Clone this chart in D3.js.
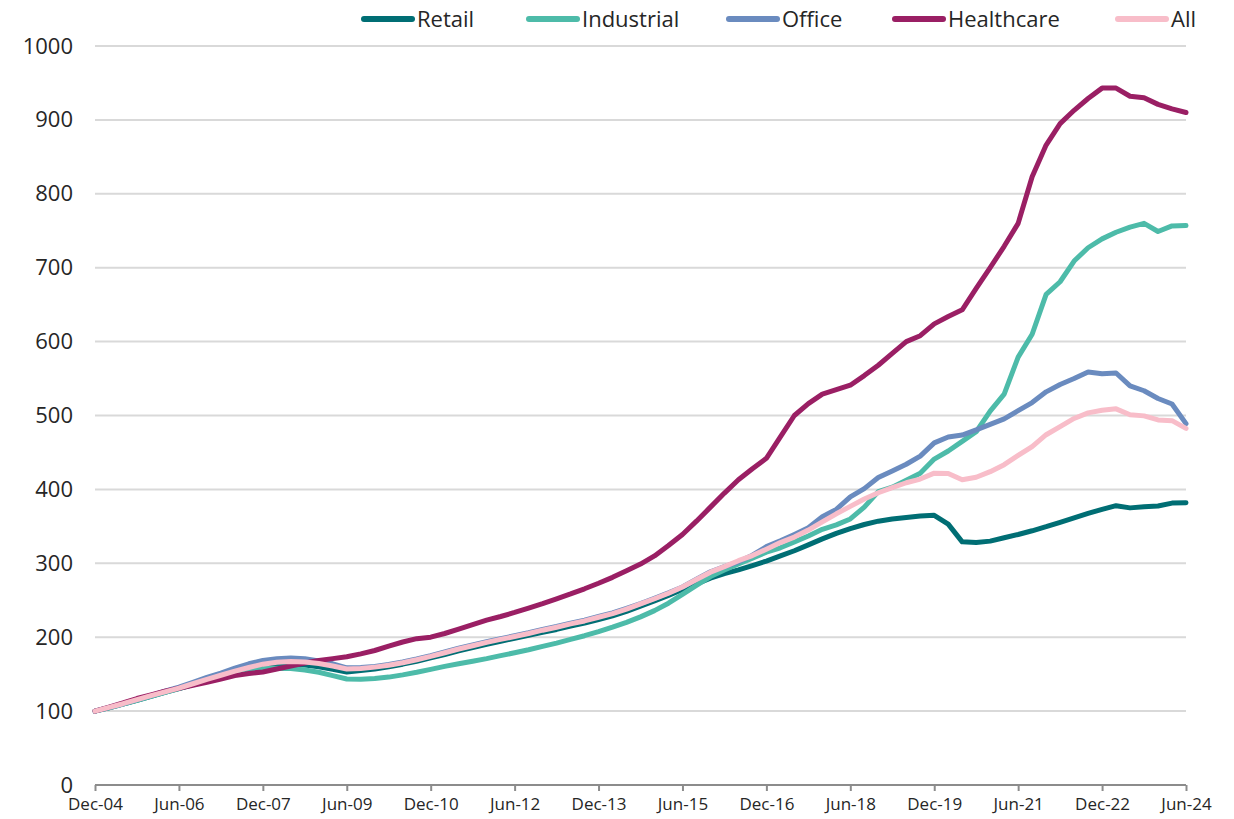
<!DOCTYPE html>
<html>
<head>
<meta charset="utf-8">
<script src="https://cdn.jsdelivr.net/npm/d3@7"></script>
<style>
  html, body { margin: 0; padding: 0; background: #ffffff; }
  svg { display: block; font-family: "Open Sans", "Noto Sans", sans-serif; }
</style>
</head>
<body>
<svg id="chart" width="1234" height="819"></svg>
<script>
// Quarterly index values, Dec-04 = 100 (79 quarters, Dec-04 .. Jun-24)
const seriesNames = ["Retail", "Industrial", "Office", "Healthcare", "All"];

const retail = [
  100, 104.5, 109.5, 114.5, 120, 125.5, 130.5, 136, 141.5, 147,
  152, 157, 161, 163, 163.5, 162.5, 160, 156.5, 153, 155,
  157, 160, 163.5, 167.5, 172, 176.5, 181.5, 186, 190.5, 194.5,
  198.5, 202.5, 206.5, 210.5, 215, 219, 224, 229, 235, 242,
  249, 256.5, 264.5, 272, 280, 286, 291, 297, 303, 310,
  317, 325, 333, 340.5, 347, 352.5, 357, 360, 362, 364,
  365, 353, 329, 328, 330, 334.5, 339, 344, 349.5, 355.5,
  361.5, 367.5, 373, 378, 375, 376.5, 377.5, 381.5, 382
];

const industrial = [
  100, 104.5, 109.5, 114.5, 120, 125.5, 130.5, 136, 141, 146,
  151, 155, 157.5, 158, 157.5, 155.5, 152.5, 148, 143.5, 143,
  144, 146, 149, 152.5, 156.5, 160.5, 164, 167.5, 171, 175,
  179, 183, 187.5, 192, 197, 202, 207.5, 213.5, 220, 227.5,
  236, 246, 258, 270, 282, 291, 299, 307, 315, 321,
  329, 337, 346, 352, 360, 376, 397, 403, 412.5, 422,
  441, 452, 465, 478, 506, 529, 579, 610, 664, 681,
  709, 727, 739, 748, 755, 760, 749, 756.5, 757
];

const office = [
  100, 105, 110, 115.5, 121, 127, 132.5, 139, 145.5, 151.5,
  158, 164, 168.5, 171, 172, 171, 168, 164, 158.5, 159,
  160.5, 163, 166.5, 170.5, 175, 180, 185, 189.5, 194, 198,
  202, 206, 210.5, 214.5, 219, 223, 228, 233, 239, 245.5,
  252.5, 260, 268, 278.5, 288.5, 295.5, 302, 311, 322.5, 330.5,
  339, 348, 363, 373, 390, 401, 416, 425, 434, 445,
  463, 471, 473.5, 480.5, 488, 495.5, 506.5, 517.5, 532, 542,
  550, 559, 556.5, 557.5, 540, 533.5, 523, 515.5, 489
];

const healthcare = [
  100, 105.5, 111, 117, 122, 127, 131, 135, 139, 143.5,
  148, 151, 153, 157, 161, 165, 168.5, 171, 173.5, 177.5,
  182, 188, 193.5, 198, 200, 205, 211, 217, 223, 228,
  233.5, 239.5, 245.5, 252, 258.5, 265.5, 273, 281, 290, 299,
  310, 324, 339, 357, 376, 395, 413, 428, 442, 471,
  500, 516, 529, 535, 541, 554, 568, 584, 600, 608,
  624, 634, 643, 672, 700, 729, 760, 823, 866, 895,
  913, 929, 943, 943, 932, 930, 921, 915, 910
];

const all = [
  100, 105, 110, 115.5, 121, 126, 131, 137, 143, 148.5,
  154, 159, 163.5, 166, 167, 166.5, 164.5, 161, 157, 157.5,
  159.5, 162, 165.5, 169.5, 174, 179, 184, 188.5, 193, 197,
  201, 205, 209.5, 213.5, 218, 222, 227, 232, 238, 245,
  252, 259.5, 268, 278, 288, 295.5, 303.5, 310.5, 319, 328,
  335.5, 345, 356, 367, 377, 387, 395.5, 402.5, 409, 414,
  422, 421.5, 413, 416.5, 424, 433.5, 446, 458, 474, 485,
  496, 503.5, 507, 509, 501, 499.5, 494, 493, 482.5
];

// Axis labels: every sixth quarter on x, every 100 on y
const xTickLabels = ["Dec-04", "Jun-06", "Dec-07", "Jun-09", "Dec-10", "Jun-12", "Dec-13",
                     "Jun-15", "Dec-16", "Jun-18", "Dec-19", "Jun-21", "Dec-22", "Jun-24"];
const yTickValues = [0, 100, 200, 300, 400, 500, 600, 700, 800, 900, 1000];

const colors = {
  Retail: "#006e74",
  Industrial: "#4dbba9",
  Office: "#6a8bbf",
  Healthcare: "#9a1f64",
  All: "#f8bdc9"
};

const seriesData = { Retail: retail, Industrial: industrial, Office: office, Healthcare: healthcare, All: all };

const svg = d3.select("#chart");
const plotLeft = 95, plotRight = 1186, plotTop = 46, plotBottom = 785;

const nQ = all.length - 1;
const x = d3.scaleLinear().domain([0, nQ]).range([plotLeft, plotRight]);
const y = d3.scaleLinear().domain([0, 1000]).range([plotBottom, plotTop]);

// horizontal gridlines
svg.append("g")
  .selectAll("line")
  .data(yTickValues.filter(v => v > 0))
  .join("line")
  .attr("x1", plotLeft).attr("x2", plotRight)
  .attr("y1", d => y(d)).attr("y2", d => y(d))
  .attr("stroke", "#d9d9d9")
  .attr("stroke-width", 2);

// y labels
const yAxis = d3.axisLeft(y).tickValues(yTickValues).tickFormat(d3.format("d"))
  .tickSize(0).tickPadding(0);
const gy = svg.append("g").attr("transform", `translate(${plotLeft - 22},0)`).call(yAxis);
gy.select(".domain").remove();
gy.selectAll("text")
  .attr("font-family", "'Open Sans', sans-serif")
  .attr("font-size", 22)
  .attr("fill", "#262626");

// x axis with ticks every six quarters
const xTickIdx = xTickLabels.map((_, i) => i * 6);
const xAxis = d3.axisBottom(x)
  .tickValues(xTickIdx)
  .tickFormat((d, i) => xTickLabels[i])
  .tickSize(6)
  .tickPadding(7);
const gx = svg.append("g").attr("transform", `translate(0,${plotBottom})`).call(xAxis);
gx.select(".domain").attr("stroke", "#8c8c8c").attr("stroke-width", 2)
  .attr("d", `M${plotLeft},0H${plotRight}`);
gx.selectAll(".tick line").attr("stroke", "#8c8c8c").attr("stroke-width", 2);
gx.selectAll("text")
  .attr("font-family", "'Open Sans', sans-serif")
  .attr("font-size", 17)
  .attr("fill", "#262626");

// series lines
const line = d3.line()
  .x((d, i) => x(i))
  .y(d => y(d));

svg.append("g")
  .selectAll("path")
  .data(seriesNames)
  .join("path")
  .attr("d", name => line(seriesData[name]))
  .attr("fill", "none")
  .attr("stroke", name => colors[name])
  .attr("stroke-width", 5)
  .attr("stroke-linejoin", "round")
  .attr("stroke-linecap", "round");

// legend across the top
const legendX = { Retail: 364, Industrial: 529, Office: 729, Healthcare: 895, All: 1118 };
const lg = svg.append("g");
seriesNames.forEach(name => {
  const g = lg.append("g").attr("transform", `translate(${legendX[name]},19)`);
  g.append("line")
    .attr("x1", 0).attr("x2", 48)
    .attr("y1", 0).attr("y2", 0)
    .attr("stroke", colors[name])
    .attr("stroke-width", 6)
    .attr("stroke-linecap", "round");
  g.append("text")
    .attr("x", 53)
    .attr("y", 8)
    .attr("font-family", "'Open Sans', sans-serif")
    .attr("font-size", 22)
    .attr("fill", "#262626")
    .text(name);
});
</script>
</body>
</html>
